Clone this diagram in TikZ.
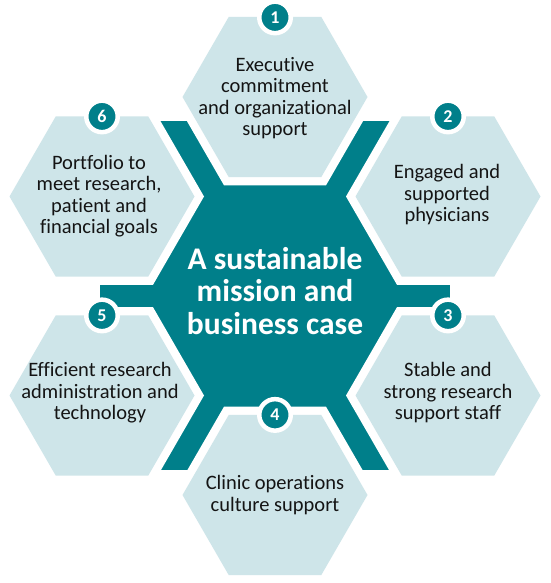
\documentclass[tikz,border=0pt]{standalone}
\usepackage{fontspec}
\setmainfont{Carlito}[Ligatures=NoCommon]
\definecolor{tealdark}{RGB}{0,127,138}
\definecolor{hexlight}{RGB}{206,229,233}
\definecolor{txt}{RGB}{20,20,20}
\tikzset{
  hexcell/.pic={
    \fill[white] (0:102) -- (60:102) -- (120:102) -- (180:102) -- (240:102) -- (300:102) -- cycle;
    \fill[hexlight] (0:92.5) -- (60:92.5) -- (120:92.5) -- (180:92.5) -- (240:92.5) -- (300:92.5) -- cycle;
  },
  badge/.style={circle, fill=tealdark, draw=white, line width=4.5pt, minimum size=31.5pt,
    inner sep=0pt, outer sep=0pt, text=white, font=\fontsize{18}{18}\selectfont\bfseries},
  hextext/.style={align=center, text=txt, inner sep=0pt, font=\fontsize{20.5}{21.5}\selectfont},
  maintext/.style={align=center, text=white, inner sep=0pt, font=\fontsize{31.5}{32.5}\selectfont\bfseries}
}
\begin{document}
\begin{tikzpicture}[x=1pt,y=-1pt]
\useasboundingbox (0,0) rectangle (550,583);
% dark core with arms
\fill[tealdark] (100,121) rectangle (450,470);
% hexagon cells
\pic at (275,97) {hexcell};
\pic at (448,196.5) {hexcell};
\pic at (448,395.5) {hexcell};
\pic at (275,495) {hexcell};
\pic at (102,395.5) {hexcell};
\pic at (102,196.5) {hexcell};
% texts
\node[maintext] (core) at (275,291) {A sustainable\\mission and\\business case};
\node[hextext] (t1) at (275,98) {Executive\\commitment\\and organizational\\support};
\node[hextext] (t2) at (447,195) {Engaged and\\supported\\physicians};
\node[hextext] (t3) at (448,393) {Stable and\\strong research\\support staff};
\node[hextext] (t4) at (275,495) {Clinic operations\\culture support};
\node[hextext] (t5) at (100,393) {Efficient research\\administration and\\technology};
\node[hextext] (t6) at (99,196) {Portfolio to\\meet research,\\patient and\\financial goals};
% badges
\node[badge] (b1) at (275,17.4) {1};
\node[badge] (b2) at (448,116.4) {2};
\node[badge] (b3) at (448,315.4) {3};
\node[badge] (b4) at (275,414.9) {4};
\node[badge] (b5) at (102,315.4) {5};
\node[badge] (b6) at (102,116.4) {6};
\end{tikzpicture}
\end{document}
